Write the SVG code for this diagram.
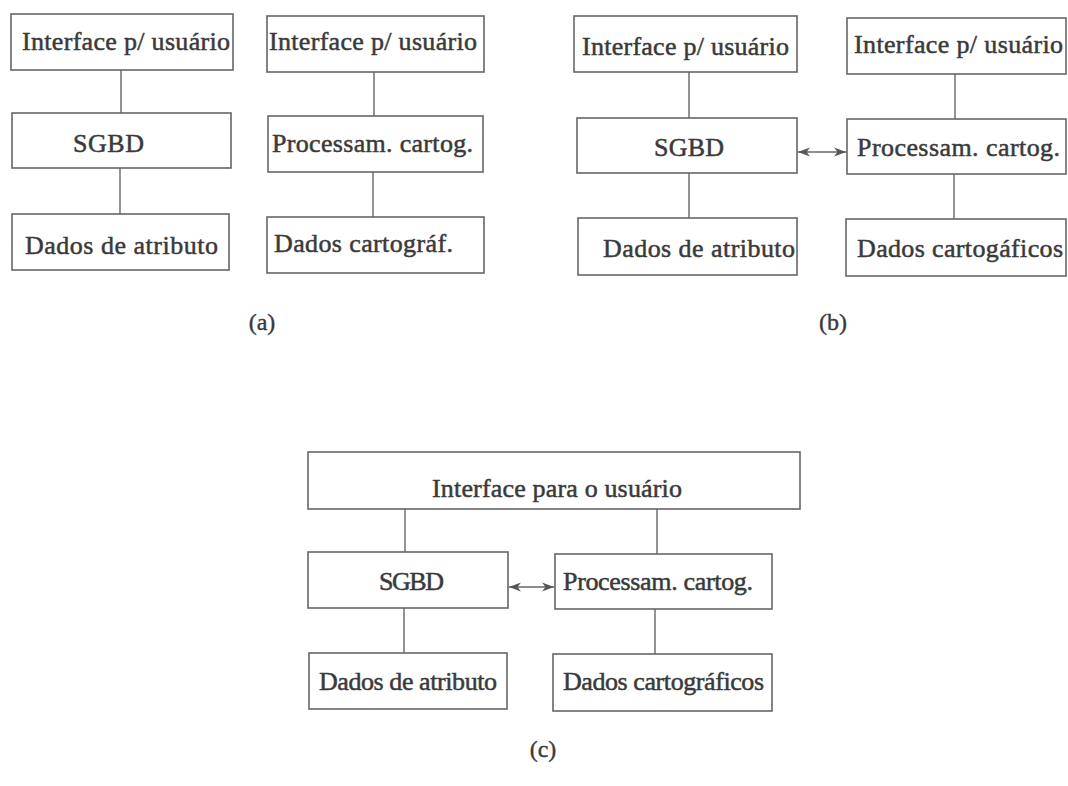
<svg xmlns="http://www.w3.org/2000/svg" width="1068" height="786" viewBox="0 0 1068 786">
<defs>
<style>
.box{fill:#fff;stroke:#666;stroke-width:1.6}
.t{font-family:"Liberation Serif","Times New Roman",serif;font-size:26px;fill:#3a3a3a;stroke:#3a3a3a;stroke-width:0.5}
.lbl{font-family:"Liberation Serif","Times New Roman",serif;font-size:24px;fill:#3a3a3a;stroke:#3a3a3a;stroke-width:0.4;text-anchor:middle}
.ln{stroke:#666;stroke-width:1.4;fill:none}
</style>
<marker id="ah" viewBox="0 0 12 10" refX="12" refY="5" markerWidth="12" markerHeight="10" markerUnits="userSpaceOnUse" orient="auto-start-reverse">
<path d="M0,0.5 L12,5 L0,9.5 L3.5,5 Z" fill="#555"/>
</marker>
</defs>
<rect width="1068" height="786" fill="#fff"/>
<g id="connectors">
<line class="ln" x1="121" y1="70" x2="121" y2="113"/>
<line class="ln" x1="120" y1="168" x2="120" y2="214"/>
<line class="ln" x1="374" y1="72" x2="374" y2="116"/>
<line class="ln" x1="373" y1="172" x2="373" y2="217"/>
<line class="ln" x1="689" y1="72" x2="689" y2="118"/>
<line class="ln" x1="689" y1="173" x2="689" y2="218"/>
<line class="ln" x1="955" y1="74" x2="955" y2="119"/>
<line class="ln" x1="954" y1="174" x2="954" y2="219"/>
<line class="ln" x1="798" y1="152" x2="846" y2="152" marker-start="url(#ah)" marker-end="url(#ah)"/>
<line class="ln" x1="405" y1="509" x2="405" y2="552"/>
<line class="ln" x1="657" y1="509" x2="657" y2="554"/>
<line class="ln" x1="404" y1="608" x2="404" y2="653"/>
<line class="ln" x1="655" y1="609" x2="655" y2="654"/>
<line class="ln" x1="509" y1="587" x2="554" y2="587" marker-start="url(#ah)" marker-end="url(#ah)"/>
</g>
<g id="a1"><rect class="box" x="11" y="14" width="222" height="56"/><text class="t" x="22" y="50" textLength="208" lengthAdjust="spacing">Interface p/ usuário</text></g>
<g id="a2"><rect class="box" x="12" y="113" width="219" height="55"/><text class="t" x="73" y="152" textLength="71" lengthAdjust="spacing">SGBD</text></g>
<g id="a3"><rect class="box" x="12" y="214" width="217" height="56"/><text class="t" x="25" y="254" textLength="193" lengthAdjust="spacing">Dados de atributo</text></g>
<g id="a4"><rect class="box" x="267" y="16" width="217" height="56"/><text class="t" x="269" y="50" textLength="208" lengthAdjust="spacing">Interface p/ usuário</text></g>
<g id="a5"><rect class="box" x="268" y="116" width="215" height="56"/><text class="t" x="272" y="152" textLength="201" lengthAdjust="spacing">Processam. cartog.</text></g>
<g id="a6"><rect class="box" x="267" y="217" width="217" height="56"/><text class="t" x="274" y="252" textLength="179" lengthAdjust="spacing">Dados cartográf.</text></g>
<g id="b1"><rect class="box" x="574" y="16" width="223" height="56"/><text class="t" x="582" y="55" textLength="207" lengthAdjust="spacing">Interface p/ usuário</text></g>
<g id="b2"><rect class="box" x="577" y="118" width="220" height="55"/><text class="t" x="654" y="156" textLength="70" lengthAdjust="spacing">SGBD</text></g>
<g id="b3"><rect class="box" x="578" y="218" width="219" height="57"/><text class="t" x="603" y="257" textLength="192" lengthAdjust="spacing">Dados de atributo</text></g>
<g id="b4"><rect class="box" x="847" y="18" width="219" height="56"/><text class="t" x="854" y="53" textLength="209" lengthAdjust="spacing">Interface p/ usuário</text></g>
<g id="b5"><rect class="box" x="847" y="119" width="219" height="55"/><text class="t" x="857" y="156" textLength="203" lengthAdjust="spacing">Processam. cartog.</text></g>
<g id="b6"><rect class="box" x="846" y="219" width="220" height="57"/><text class="t" x="857" y="257" textLength="206" lengthAdjust="spacing">Dados cartogáficos</text></g>
<g id="c1"><rect class="box" x="308" y="452" width="492" height="57"/><text class="t" x="432" y="497" textLength="250" lengthAdjust="spacing">Interface para o usuário</text></g>
<g id="c2"><rect class="box" x="308" y="552" width="200" height="56"/><text class="t" x="379" y="590" textLength="65" lengthAdjust="spacing">SGBD</text></g>
<g id="c3"><rect class="box" x="309" y="653" width="198" height="56"/><text class="t" x="319" y="690" textLength="178" lengthAdjust="spacing">Dados de atributo</text></g>
<g id="c5"><rect class="box" x="555" y="554" width="217" height="55"/><text class="t" x="563" y="590" textLength="190" lengthAdjust="spacing">Processam. cartog.</text></g>
<g id="c6"><rect class="box" x="553" y="654" width="219" height="57"/><text class="t" x="563" y="690" textLength="201" lengthAdjust="spacing">Dados cartográficos</text></g>
<text class="lbl" x="262" y="330">(a)</text>
<text class="lbl" x="833" y="330">(b)</text>
<text class="lbl" x="543" y="757">(c)</text>
</svg>
